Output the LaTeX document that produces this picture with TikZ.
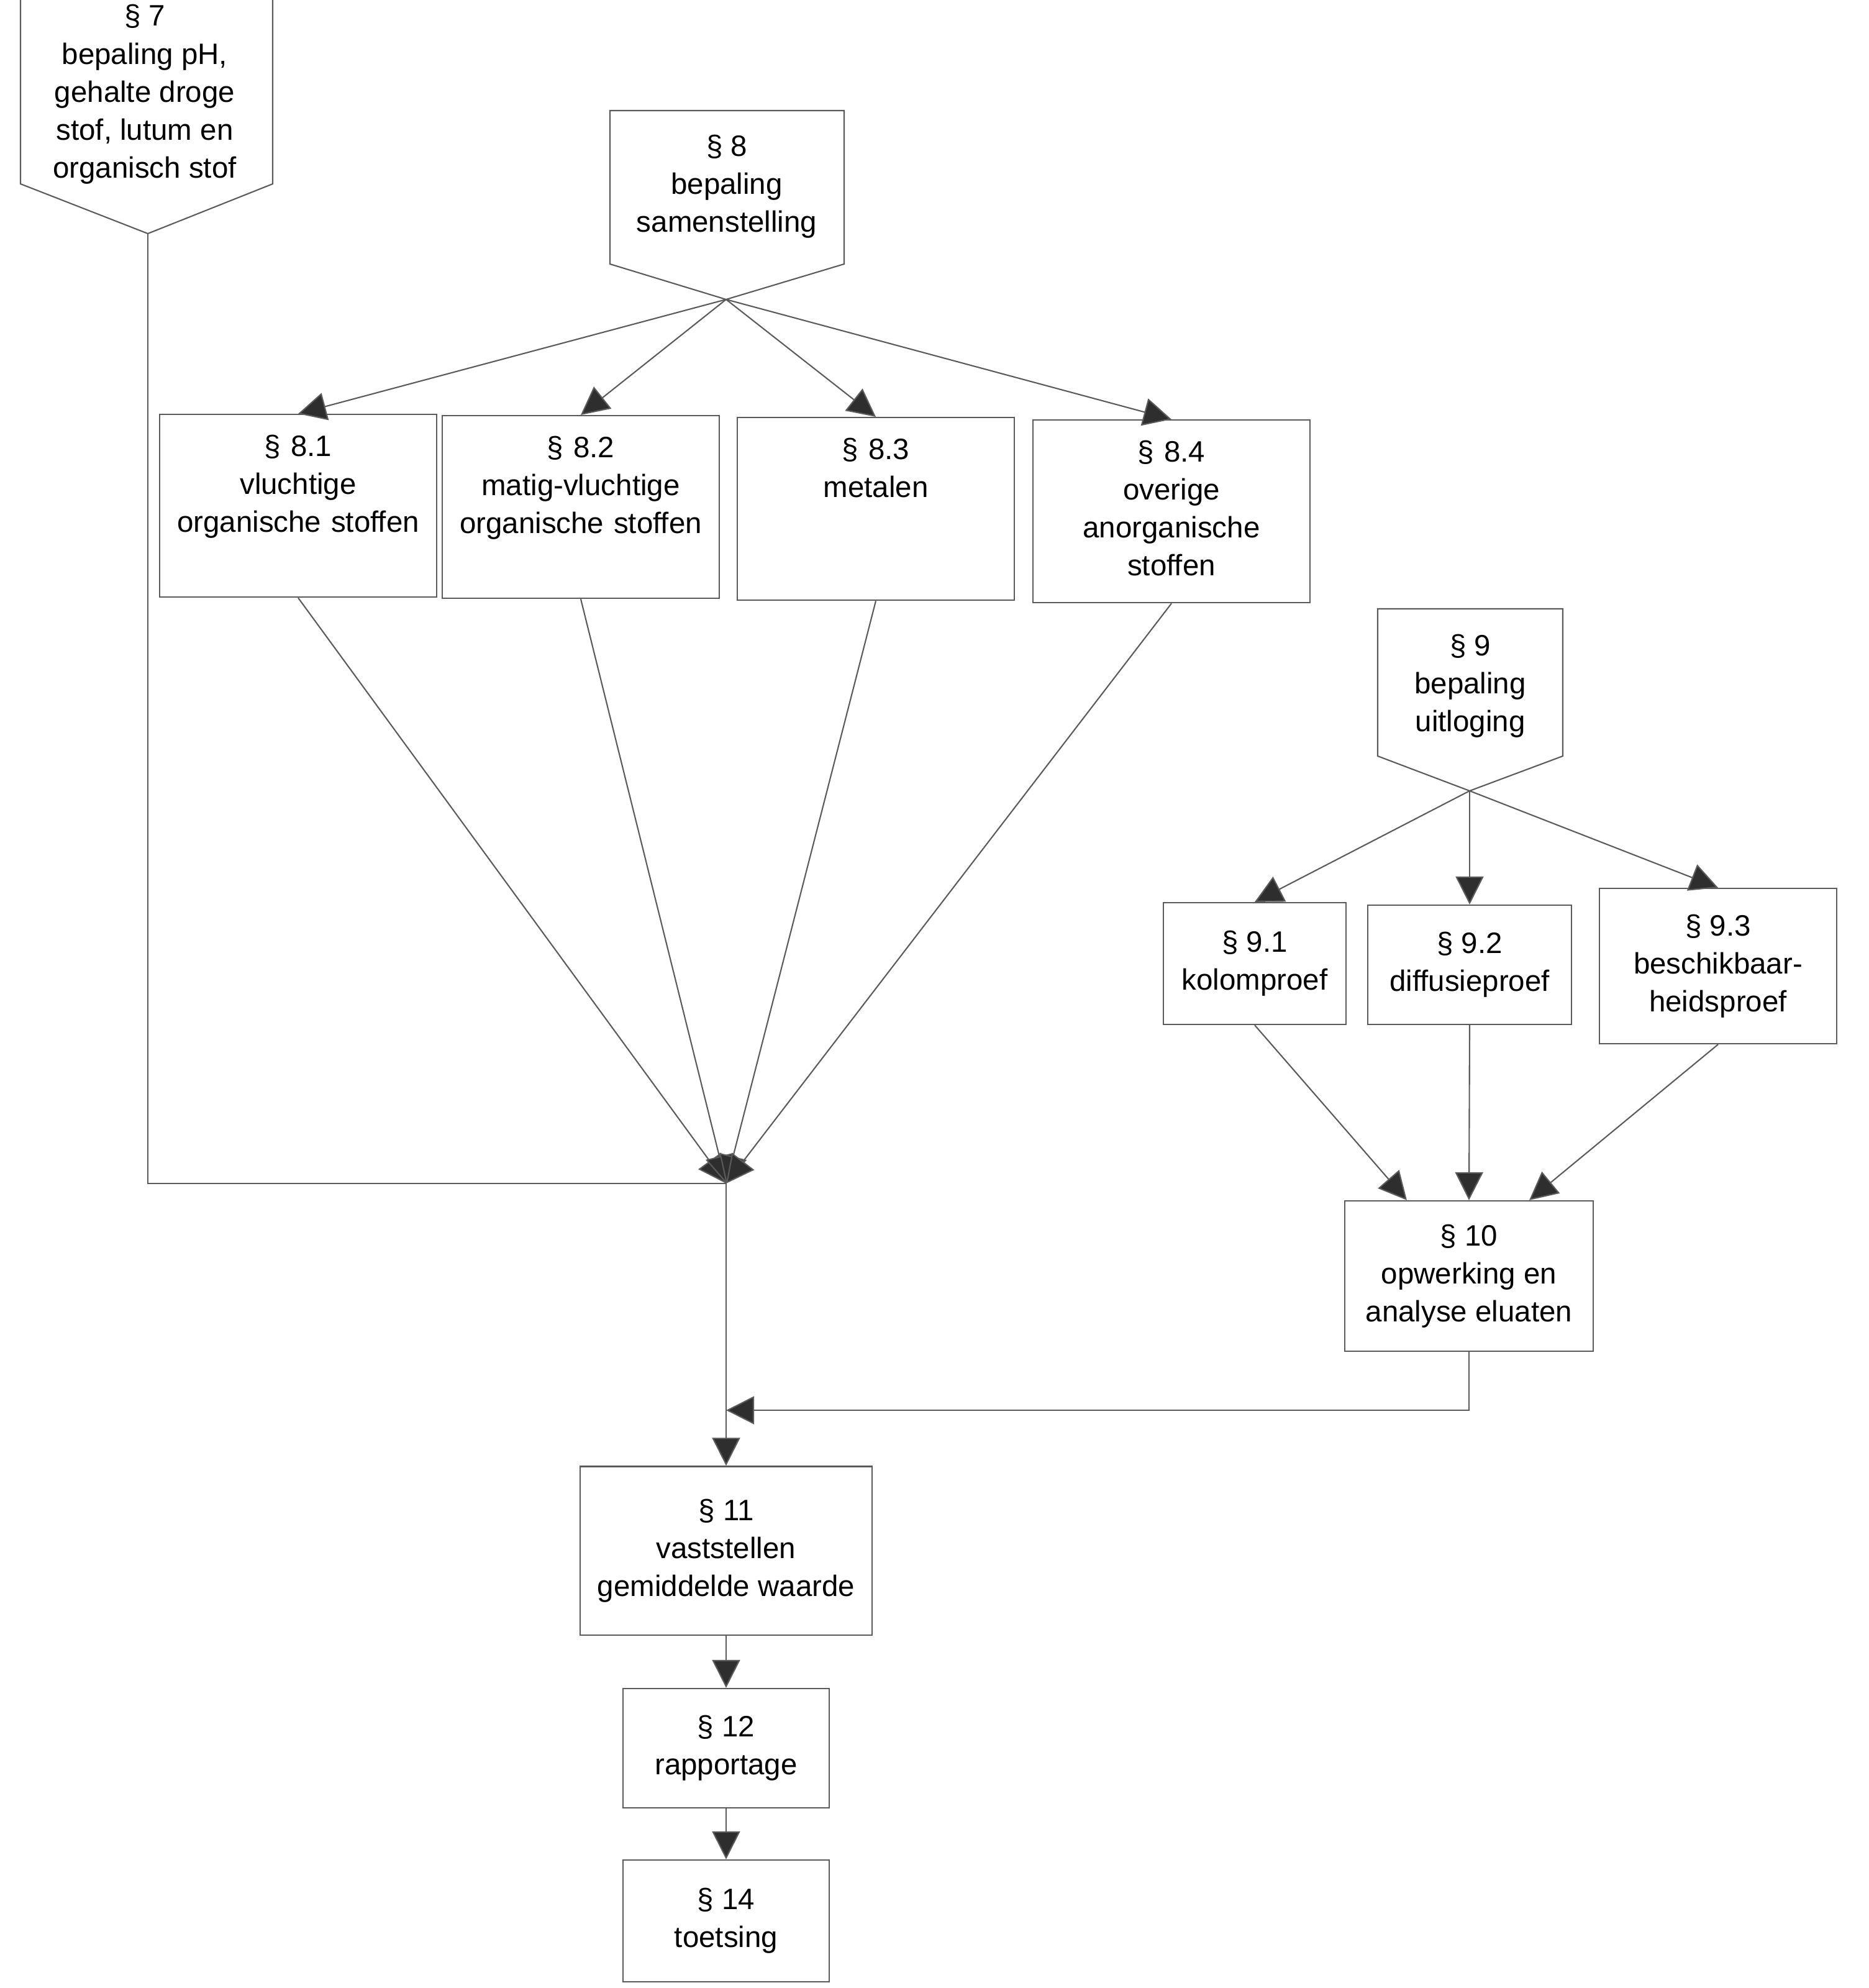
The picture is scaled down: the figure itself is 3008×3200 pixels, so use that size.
\documentclass[tikz,border=0pt]{standalone}
\usepackage{fontspec}
\setmainfont{Liberation Sans}
\usepackage{tikz}
\usetikzlibrary{arrows.meta,positioning}
\definecolor{scanline}{HTML}{5A5A5A}
\definecolor{scantip}{HTML}{2E2E2E}

\begin{document}
\begin{tikzpicture}[x=0.01cm,y=-0.01cm,>={Triangle[length=4.5mm,width=4.5mm,fill=scantip]},
  font=\fontsize{13.5}{17.4}\selectfont,
  edge/.style={draw=scanline,line width=0.6pt},
  flow/.style={edge,->},
  txt/.style={align=center,inner sep=0pt},
  sec/.style={draw=scanline,line width=0.6pt,align=center,inner sep=0pt},
  analysis/.style={sec,anchor=north,minimum width=4.45cm,text width=4.2cm,text height=0.67cm,text depth=2.27cm}]
\useasboundingbox (0,0) rectangle (3008,3200);
\clip (0,0) rectangle (3008,3200);

\coordinate (p7) at (238,376);
\coordinate (p8) at (1169,482);
\coordinate (p9) at (2366,1273);
\coordinate (merge) at (1169,1905);
\coordinate (join) at (1169,2270);

\draw[edge] (33,-30) -- (33,296) -- (p7) -- (439,296) -- (439,-30);
\node[txt] (s7) at (233,152) {§ 7\\bepaling pH,\\gehalte droge\\stof, lutum en\\organisch stof};
\draw[edge] (982,178) -- (1359,178) -- (1359,425) -- (p8) -- (982,425) -- cycle;
\node[txt] (s8) at (1170,300) {§ 8\\bepaling\\samenstelling};
\draw[edge] (2218,980) -- (2516,980) -- (2516,1217) -- (p9) -- (2218,1217) -- cycle;
\node[txt] (s9) at (2367,1104) {§ 9\\bepaling\\uitloging};

\node[analysis] (s81) at (480,666) {§ 8.1\\vluchtige\\organische stoffen};
\node[analysis] (s82) at (935,668) {§ 8.2\\matig-vluchtige\\organische stoffen};
\node[analysis] (s83) at (1410,671) {§ 8.3\\metalen};
\node[analysis] (s84) at (1886,675) {§ 8.4\\overige\\anorganische\\stoffen};

\node[sec,minimum width=2.94cm,minimum height=1.96cm] (s91) at (2020,1551) {§ 9.1\\kolomproef};
\node[sec,minimum width=3.28cm,minimum height=1.92cm] (s92) at (2366,1553) {§ 9.2\\diffusieproef};
\node[sec,minimum width=3.82cm,minimum height=2.50cm] (s93) at (2766,1555) {§ 9.3\\beschikbaar-\\heidsproef};
\node[sec,minimum width=4.00cm,minimum height=2.42cm] (s10) at (2365,2054) {§ 10\\opwerking en\\analyse eluaten};
\node[sec,minimum width=4.69cm,minimum height=2.71cm] (s11) at (1169,2496) {§ 11\\vaststellen\\gemiddelde waarde};
\node[sec,minimum width=3.31cm,minimum height=1.92cm] (s12) at (1169,2814) {§ 12\\rapportage};
\node[sec,minimum width=3.31cm,minimum height=1.96cm] (s14) at (1169,3092) {§ 14\\toetsing};

\foreach \n in {s81,s82,s83,s84} {
  \draw[flow] (p8) -- (\n.north);
  \draw[flow] (\n.south) -- (merge);
}
\foreach \n in {s91,s92,s93}
  \draw[flow] (p9) -- (\n.north);
\draw[flow] (s91.south) -- ([xshift=-1cm]s10.north);
\draw[flow] (s92.south) -- (s10.north);
\draw[flow] (s93.south) -- ([xshift=0.97cm]s10.north);
\draw[edge] (p7) |- (merge);
\draw[flow] (merge) -- (s11.north);
\draw[flow] (s10.south) |- (join);
\draw[flow] (s11) -- (s12);
\draw[flow] (s12) -- (s14);
\end{tikzpicture}
\end{document}
